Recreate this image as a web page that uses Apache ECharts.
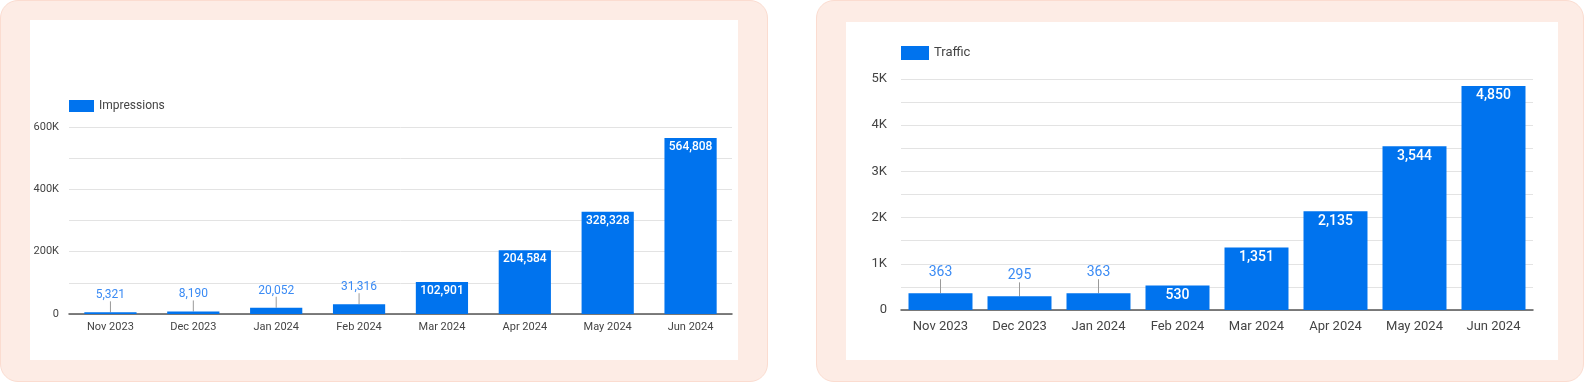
<!DOCTYPE html>
<html><head><meta charset="utf-8">
<script src="https://cdn.jsdelivr.net/npm/echarts@6/dist/echarts.min.js"></script>
<style>
html,body{margin:0;padding:0;width:1584px;height:382px;background:#fff;overflow:hidden;font-family:Roboto,sans-serif;}
.panel{position:absolute;background:#fdece5;border:1px solid #fbdcd0;border-radius:18px;box-sizing:border-box;}
.inner{position:absolute;background:#fff;}
#chart{position:absolute;left:0;top:0;width:1584px;height:382px;}
</style></head>
<body>
<div class="panel" style="left:0;top:0;width:768px;height:382px"></div>
<div class="inner" style="left:30px;top:20px;width:708px;height:340px"></div>
<div class="panel" style="left:816px;top:0;width:768px;height:382px"></div>
<div class="inner" style="left:846px;top:22px;width:712px;height:338px"></div>
<div id="chart"></div>
<script>
const months = ['Nov 2023','Dec 2023','Jan 2024','Feb 2024','Mar 2024','Apr 2024','May 2024','Jun 2024'];
const impressions = [5321, 8190, 20052, 31316, 102901, 204584, 328328, 564808];
const traffic = [363, 295, 363, 530, 1351, 2135, 3544, 4850];
const impressionsTicks = [0, 200000, 400000, 600000];
const trafficTicks = [0, 1000, 2000, 3000, 4000, 5000];

const BLUE = '#0073ee';
const fmt = v => v.toLocaleString('en-US');
const kfmt = v => v === 0 ? '0' : (v / 1000) + 'K';
const isInside = (v, axisMax) => v / axisMax > 0.09;

function barData(values, axisMax, fs) {
  return values.map(v => {
    const inside = isInside(v, axisMax);
    return {
      value: v,
      label: inside
        ? {show: true, position: 'insideTop', distance: 3, color: '#fff', fontSize: fs, fontWeight: 500, fontFamily: 'Roboto', formatter: p => fmt(p.value)}
        : {show: true, position: 'top', distance: 0, color: '#3b8bf4', fontSize: fs, fontFamily: 'Roboto', formatter: p => fmt(p.value)},
      labelLine: {show: !inside, lineStyle: {color: '#9a9a9a', width: 1}}
    };
  });
}
function layoutFor(values, axisMax, lift) {
  return p => isInside(values[p.dataIndex], axisMax) ? {} : {dy: -lift};
}

const chart = echarts.init(document.getElementById('chart'), null, {renderer: 'canvas'});
chart.setOption({
  animation: false,
  textStyle: {fontFamily: 'Roboto'},
  legend: [
    {left: 69, top: 100, padding: 0, icon: 'rect', itemWidth: 25, itemHeight: 12, itemGap: 4, data: ['Impressions'],
     textStyle: {fontSize: 12, color: '#444', fontFamily: 'Roboto'}},
    {left: 901, top: 46, padding: 0, icon: 'rect', itemWidth: 28, itemHeight: 14, itemGap: 5, data: ['Traffic'],
     textStyle: {fontSize: 13, color: '#444', fontFamily: 'Roboto'}}
  ],
  grid: [
    {left: 69, right: 852, top: 127, bottom: 68},
    {left: 901, right: 51, top: 79, bottom: 72}
  ],
  xAxis: [
    {type: 'category', gridIndex: 0, data: months,
     axisLine: {lineStyle: {color: '#555', width: 1.5}}, axisTick: {show: false},
     axisLabel: {fontSize: 11, color: '#444', margin: 8}},
    {type: 'category', gridIndex: 1, data: months,
     axisLine: {lineStyle: {color: '#555', width: 1.5}}, axisTick: {show: false},
     axisLabel: {fontSize: 13, color: '#444', margin: 10}}
  ],
  yAxis: [
    {type: 'value', gridIndex: 0, min: 0, max: impressionsTicks[impressionsTicks.length - 1], interval: 100000,
     axisLabel: {fontSize: 11, color: '#444', margin: 10,
       formatter: v => impressionsTicks.includes(v) ? kfmt(v) : ''},
     splitLine: {lineStyle: {color: '#e3e3e3', width: 1}}},
    {type: 'value', gridIndex: 1, min: 0, max: trafficTicks[trafficTicks.length - 1], interval: 500,
     axisLabel: {fontSize: 13, color: '#444', margin: 14,
       formatter: v => trafficTicks.includes(v) ? kfmt(v) : ''},
     splitLine: {lineStyle: {color: '#e3e3e3', width: 1}}}
  ],
  series: [
    {name: 'Impressions', type: 'bar', xAxisIndex: 0, yAxisIndex: 0, barCategoryGap: '37%',
     itemStyle: {color: BLUE}, data: barData(impressions, 600000, 12),
     labelLine: {show: true, lineStyle: {color: '#9a9a9a', width: 1}},
     labelLayout: layoutFor(impressions, 600000, 11)},
    {name: 'Traffic', type: 'bar', xAxisIndex: 1, yAxisIndex: 1, barCategoryGap: '19%',
     itemStyle: {color: BLUE}, data: barData(traffic, 5000, 14),
     labelLine: {show: true, lineStyle: {color: '#9a9a9a', width: 1}},
     labelLayout: layoutFor(traffic, 5000, 14)}
  ]
});
</script>
</body></html>
